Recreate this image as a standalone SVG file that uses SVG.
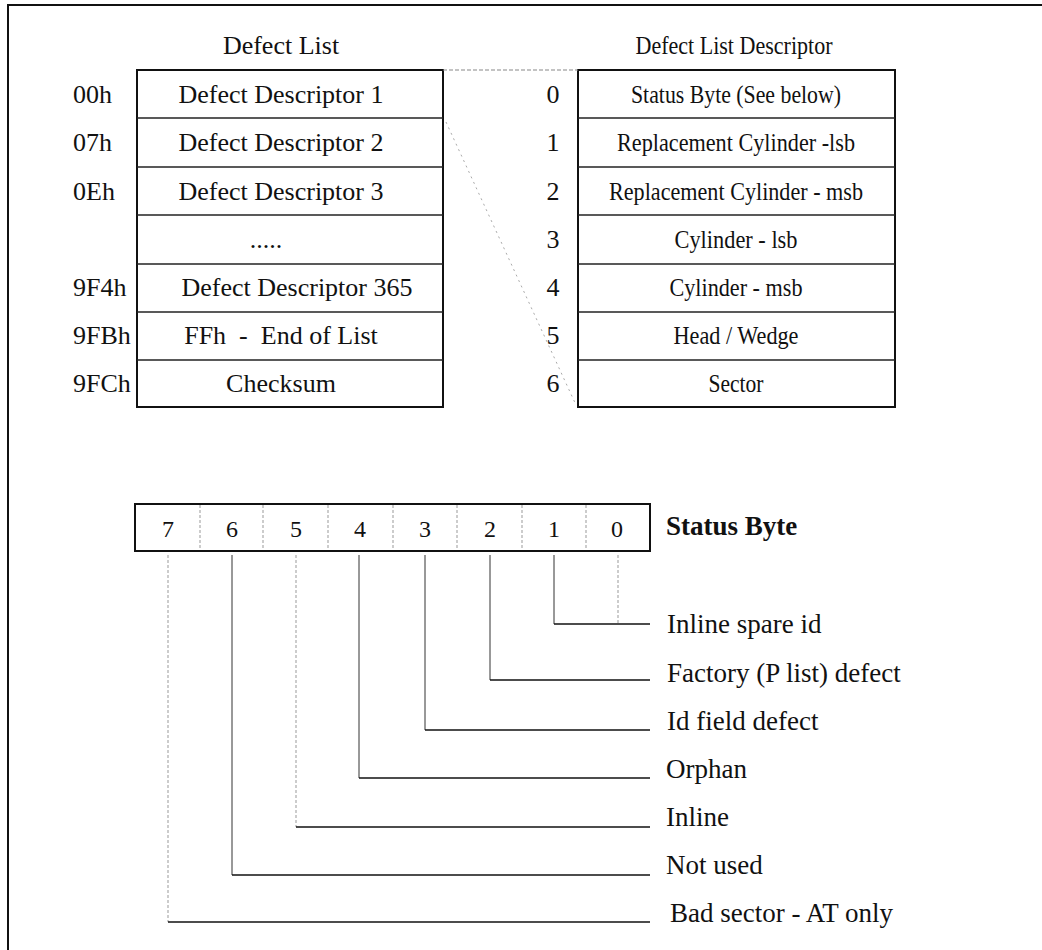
<svg xmlns="http://www.w3.org/2000/svg" width="1042" height="950" viewBox="0 0 1042 950">
<style>
text{font-family:"Liberation Serif","Times New Roman",serif;font-size:26px;fill:#111}
.c{text-anchor:middle}
.box{fill:none;stroke:#111;stroke-width:2}
.div{stroke:#222;stroke-width:1.5}
.dash{stroke:#999;stroke-width:1;stroke-dasharray:3 2}
.sol{stroke:#333;stroke-width:1;fill:none}
.lt{stroke:#999;stroke-width:1;stroke-dasharray:3 2;fill:none}
.h{stroke:#111;stroke-width:1.6;fill:none}
.bold{font-weight:bold;font-size:27px}
.bit{font-size:24px;text-anchor:middle}
.lbl{font-size:27px}
</style>
<rect width="1042" height="950" fill="#fff"/>
<g id="frame">
<line x1="8" y1="5" x2="1042" y2="5" stroke="#111" stroke-width="2"/>
<line x1="8" y1="4" x2="8" y2="950" stroke="#111" stroke-width="2"/>
</g>
<g id="defect-list">
<text x="281" y="54" class="c">Defect List</text>
<rect x="137" y="70" width="306" height="337" class="box"/>
<line x1="137" y1="118" x2="443" y2="118" class="div"/>
<line x1="137" y1="167" x2="443" y2="167" class="div"/>
<line x1="137" y1="215" x2="443" y2="215" class="div"/>
<line x1="137" y1="264" x2="443" y2="264" class="div"/>
<line x1="137" y1="312" x2="443" y2="312" class="div"/>
<line x1="137" y1="360" x2="443" y2="360" class="div"/>
<text x="73" y="103">00h</text>
<text x="73" y="151">07h</text>
<text x="73" y="200">0Eh</text>
<text x="73" y="296">9F4h</text>
<text x="73" y="344">9FBh</text>
<text x="73" y="392">9FCh</text>
<text x="281" y="103" class="c">Defect Descriptor 1</text>
<text x="281" y="151" class="c">Defect Descriptor 2</text>
<text x="281" y="200" class="c">Defect Descriptor 3</text>
<text x="266" y="248" class="c">.....</text>
<text x="297" y="296" class="c">Defect Descriptor 365</text>
<text x="281" y="344" class="c" xml:space="preserve">FFh  -  End of List</text>
<text x="281" y="392" class="c">Checksum</text>
</g>
<g id="defect-list-descriptor">
<text x="734" y="54" class="c" textLength="197" lengthAdjust="spacingAndGlyphs">Defect List Descriptor</text>
<rect x="578" y="70" width="317" height="337" class="box"/>
<line x1="578" y1="118" x2="895" y2="118" class="div"/>
<line x1="578" y1="167" x2="895" y2="167" class="div"/>
<line x1="578" y1="215" x2="895" y2="215" class="div"/>
<line x1="578" y1="264" x2="895" y2="264" class="div"/>
<line x1="578" y1="312" x2="895" y2="312" class="div"/>
<line x1="578" y1="360" x2="895" y2="360" class="div"/>
<text x="553" y="103" class="c">0</text>
<text x="553" y="151" class="c">1</text>
<text x="553" y="200" class="c">2</text>
<text x="553" y="248" class="c">3</text>
<text x="553" y="296" class="c">4</text>
<text x="553" y="344" class="c">5</text>
<text x="553" y="392" class="c">6</text>
<text x="736" y="103" class="c" textLength="210" lengthAdjust="spacingAndGlyphs">Status Byte (See below)</text>
<text x="736" y="151" class="c" textLength="238" lengthAdjust="spacingAndGlyphs">Replacement Cylinder -lsb</text>
<text x="736" y="200" class="c" textLength="254" lengthAdjust="spacingAndGlyphs">Replacement Cylinder - msb</text>
<text x="736" y="248" class="c" textLength="123" lengthAdjust="spacingAndGlyphs">Cylinder - lsb</text>
<text x="736" y="296" class="c" textLength="133" lengthAdjust="spacingAndGlyphs">Cylinder - msb</text>
<text x="736" y="344" class="c" textLength="125" lengthAdjust="spacingAndGlyphs">Head / Wedge</text>
<text x="736" y="392" class="c" textLength="55" lengthAdjust="spacingAndGlyphs">Sector</text>
</g>
<g id="status-byte">
<rect x="135" y="504" width="515" height="47" class="box"/>
<line x1="200" y1="505" x2="200" y2="550" class="dash"/>
<line x1="263" y1="505" x2="263" y2="550" class="dash"/>
<line x1="328" y1="505" x2="328" y2="550" class="dash"/>
<line x1="393" y1="505" x2="393" y2="550" class="dash"/>
<line x1="457" y1="505" x2="457" y2="550" class="dash"/>
<line x1="522" y1="505" x2="522" y2="550" class="dash"/>
<line x1="586" y1="505" x2="586" y2="550" class="dash"/>
<text x="168" y="537" class="bit">7</text>
<text x="232" y="537" class="bit">6</text>
<text x="296" y="537" class="bit">5</text>
<text x="360" y="537" class="bit">4</text>
<text x="425" y="537" class="bit">3</text>
<text x="490" y="537" class="bit">2</text>
<text x="554" y="537" class="bit">1</text>
<text x="617" y="537" class="bit">0</text>
<text x="666" y="535" class="bold">Status Byte</text>
</g>
<g id="bit-labels">
<text x="667" y="633" class="lbl">Inline spare id</text>
<text x="667" y="682" class="lbl">Factory (P list) defect</text>
<text x="667" y="730" class="lbl">Id field defect</text>
<text x="666" y="778" class="lbl">Orphan</text>
<text x="666" y="826" class="lbl">Inline</text>
<text x="666" y="874" class="lbl">Not used</text>
<text x="670" y="922" class="lbl">Bad sector - AT only</text>
</g>
<g id="connectors">
<line x1="443" y1="70" x2="578" y2="70" stroke="#888" stroke-width="1.2" stroke-dasharray="4 2"/>
<line x1="446" y1="122" x2="576" y2="405" stroke="#aaa" stroke-width="1" stroke-dasharray="2 4"/>
<line x1="554" y1="555" x2="554" y2="624" class="sol"/>
<line x1="554" y1="624" x2="650" y2="624" class="h"/>
<line x1="618" y1="555" x2="618" y2="623" class="lt"/>
<line x1="490" y1="555" x2="490" y2="680" class="sol"/>
<line x1="490" y1="680" x2="650" y2="680" class="h"/>
<line x1="425" y1="555" x2="425" y2="730" class="sol"/>
<line x1="425" y1="730" x2="650" y2="730" class="h"/>
<line x1="359" y1="555" x2="359" y2="778" class="sol"/>
<line x1="359" y1="778" x2="650" y2="778" class="h"/>
<line x1="296" y1="555" x2="296" y2="827" class="lt"/>
<line x1="296" y1="827" x2="650" y2="827" class="h"/>
<line x1="232" y1="555" x2="232" y2="875" class="sol"/>
<line x1="232" y1="875" x2="650" y2="875" class="h"/>
<line x1="168" y1="555" x2="168" y2="922" class="lt"/>
<line x1="168" y1="922" x2="650" y2="922" class="h"/>
</g>
</svg>
